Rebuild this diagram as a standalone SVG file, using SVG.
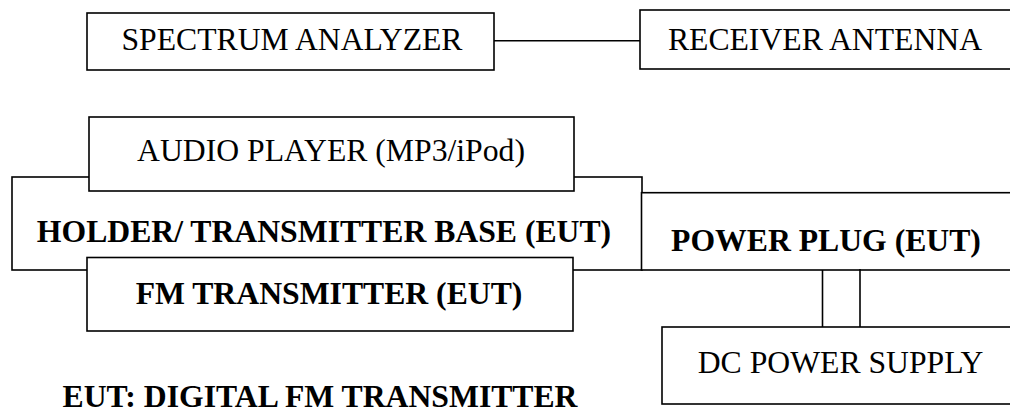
<svg xmlns="http://www.w3.org/2000/svg" width="1010" height="412" viewBox="0 0 1010 412">
  <style>
    .box { fill: #fff; stroke: #000; stroke-width: 1.6; }
    .wire { fill: none; stroke: #000; stroke-width: 1.6; }
    text { font-family: "Liberation Serif", "Times New Roman", serif; font-size: 31.7px; fill: #000; text-anchor: middle; }
    .b { font-weight: bold; }
  </style>
  <rect width="1010" height="412" fill="#fff"/>

  <!-- test bench: analyzer and antenna -->
  <g id="spectrum-analyzer">
    <rect class="box" x="87" y="13" width="407" height="57"/>
    <text x="292" y="50">SPECTRUM ANALYZER</text>
  </g>
  <g id="receiver-antenna">
    <rect class="box" x="640" y="10" width="375" height="59"/>
    <text x="825" y="50">RECEIVER ANTENNA</text>
  </g>

  <!-- holder base sits behind the player and the transmitter -->
  <g id="holder-base">
    <rect class="box" x="12" y="177" width="630" height="93"/>
    <text class="b" x="324" y="241.7">HOLDER/ TRANSMITTER BASE (EUT)</text>
  </g>
  <g id="audio-player">
    <rect class="box" x="89" y="117" width="485" height="74"/>
    <text x="331" y="160.7">AUDIO PLAYER (MP3/iPod)</text>
  </g>
  <g id="fm-transmitter">
    <rect class="box" x="87" y="257.5" width="486" height="73.5"/>
    <text class="b" x="329" y="303.5">FM TRANSMITTER (EUT)</text>
  </g>

  <!-- supply side -->
  <g id="power-plug">
    <rect class="box" x="641.5" y="192.7" width="375" height="77.3"/>
    <text class="b" x="826" y="251">POWER PLUG (EUT)</text>
  </g>
  <g id="dc-power-supply">
    <rect class="box" x="662" y="327" width="355" height="77"/>
    <text x="840.5" y="372.7">DC POWER SUPPLY</text>
  </g>

  <g id="connectors">
    <line class="wire" x1="494" y1="40.7" x2="640" y2="40.7"/>
    <line class="wire" x1="822.5" y1="270" x2="822.5" y2="327"/>
    <line class="wire" x1="860" y1="269" x2="860" y2="327"/>
  </g>

  <g id="legend">
    <text class="b" x="320" y="406.7">EUT: DIGITAL FM TRANSMITTER</text>
  </g>
</svg>
